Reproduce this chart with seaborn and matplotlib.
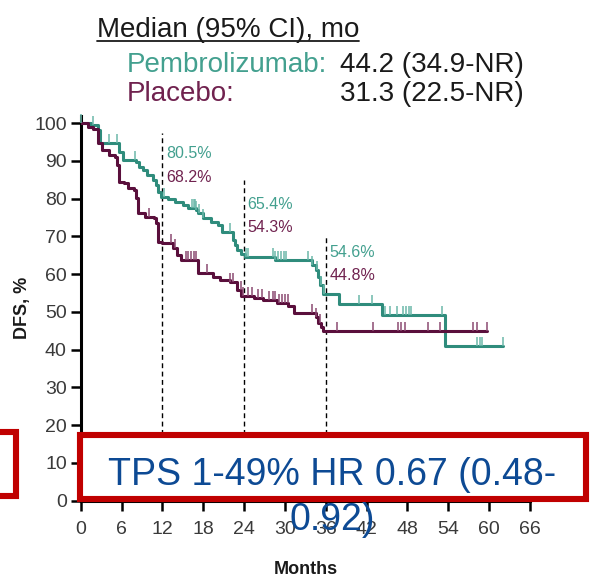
import numpy as np
import pandas as pd
import seaborn as sns
import matplotlib
matplotlib.use("Agg")
import matplotlib.pyplot as plt
from matplotlib.markers import MarkerStyle
from matplotlib.path import Path
from matplotlib.patches import Rectangle
from matplotlib.lines import Line2D
from matplotlib import font_manager

# ---- Kaplan-Meier step data (month of each drop, DFS % after the drop) ----
pembro_time = [0, 1.5, 2.5, 2.9, 5.6, 6.2, 8.1, 8.5, 9.1, 9.8,
               10.6, 11.0, 11.4, 11.8, 12.8, 13.9, 15.0, 15.8, 16.9, 17.2,
               18.0, 19.1, 20.1, 20.8, 22.3, 22.7, 23.0, 23.5, 24.2, 28.6,
               34.0, 34.5, 34.9, 35.2, 35.6, 38.0, 44.3, 53.5, 62.0]
pembro_surv = [100, 99.5, 98.1, 94.7, 92.3, 90.2, 89.7, 88.4, 87.6, 86.2,
               84.9, 83.6, 81.7, 80.5, 79.9, 79.1, 78.3, 77.5, 77.0, 76.2,
               74.9, 73.8, 73.0, 71.2, 69.0, 67.7, 66.4, 65.4, 64.6, 63.8,
               62.4, 61.0, 59.3, 57.1, 54.6, 52.1, 49.2, 41.0, 41.0]

placebo_time = [0, 1.0, 1.8, 2.5, 2.6, 3.2, 4.1, 5.1, 5.4, 5.6,
                6.3, 7.0, 7.8, 8.1, 8.4, 9.5, 10.7, 11.0, 11.3, 11.9,
                13.6, 14.2, 14.7, 17.3, 19.5, 20.5, 22.0, 23.0, 23.6, 25.4,
                26.8, 28.9, 30.5, 31.3, 34.5, 34.9, 35.3, 35.6, 59.7]
placebo_surv = [100, 99.0, 98.5, 97.6, 94.7, 92.9, 91.5, 91.0, 88.9, 84.4,
                84.1, 82.8, 82.3, 80.2, 76.2, 75.1, 74.9, 73.5, 68.5, 68.2,
                66.9, 65.1, 63.8, 60.3, 59.3, 58.5, 58.0, 55.8, 54.3, 53.7,
                53.2, 52.4, 51.5, 49.7, 48.5, 47.0, 46.0, 44.8, 44.8]

# censored observations (months)
pembro_censor = [0.1, 1.8, 4.1, 5.4, 8.0, 12.2, 16.4, 16.6, 16.8, 17.0, 17.4, 18.0,
                 22.0, 24.3, 24.6, 28.2, 28.6, 29.0, 29.4, 29.8, 30.1, 33.4, 34.0,
                 34.7, 35.3, 35.8, 40.9, 42.8, 44.7, 45.4, 46.5, 47.4, 47.8, 48.2,
                 48.5, 53.1, 58.2, 58.6, 59.0, 62.0]
placebo_censor = [10.0, 13.2, 13.9, 15.4, 15.8, 16.2, 16.6, 16.9, 18.6, 22.0, 22.4,
                  23.5, 23.9, 24.6, 25.2, 26.1, 26.7, 27.6, 28.2, 28.6, 29.2, 29.6,
                  30.0, 30.4, 34.0, 34.6, 35.2, 37.7, 43.0, 46.6, 47.0, 47.7, 51.0,
                  52.8, 57.6, 58.2, 59.7]

# landmark estimates
landmark_months = [12, 24, 36]
pembro_landmark = [80.5, 65.4, 54.6]
placebo_landmark = [68.2, 54.3, 44.8]

arms = ["Pembrolizumab", "Placebo"]
x_ticks = list(range(0, 67, 6))
y_ticks = list(range(0, 101, 10))

# ---- styling ----
TEAL = "#2f8c7c"
TEAL_TEXT = "#43a08f"
TEAL_CENSOR = "#6cb8aa"
PLUM = "#5a0f3c"
PLUM_TEXT = "#70224f"
PLUM_CENSOR = "#8c4a72"
BLUE = "#0d4a94"
RED = "#c00000"

sns.set_style("ticks")
names = {f.name for f in font_manager.fontManager.ttflist}
NARROW = "Liberation Sans Narrow" if "Liberation Sans Narrow" in names else "Liberation Sans"
plt.rcParams["font.family"] = ["Liberation Sans", "DejaVu Sans"]

W, H = 615, 577
fig = plt.figure(figsize=(W / 100, H / 100), dpi=100)


def fx(px):
    return px / W


def fy(py):
    return 1 - py / H


ax = fig.add_axes([fx(80.7), fy(500.5), 449.3 / W, 385 / H])

# ---- curves ----
km = pd.concat([
    pd.DataFrame({"month": pembro_time, "dfs": pembro_surv, "arm": arms[0]}),
    pd.DataFrame({"month": placebo_time, "dfs": placebo_surv, "arm": arms[1]}),
], ignore_index=True)

sns.lineplot(data=km, x="month", y="dfs", hue="arm",
             palette={arms[0]: TEAL, arms[1]: PLUM},
             drawstyle="steps-post", estimator=None, sort=False,
             legend=False, linewidth=2.2, ax=ax, zorder=3)


def step_value(times, surv, t):
    idx = np.searchsorted(np.asarray(times), np.asarray(t), side="right") - 1
    return np.asarray(surv)[idx]


tick_marker = MarkerStyle(Path([(0, 0), (0, 1)]))
for times, surv, cens, col in [
    (pembro_time, pembro_surv, pembro_censor, TEAL_CENSOR),
    (placebo_time, placebo_surv, placebo_censor, PLUM_CENSOR),
]:
    cdf = pd.DataFrame({"month": cens, "dfs": step_value(times, surv, cens)})
    sns.scatterplot(data=cdf, x="month", y="dfs", marker=tick_marker, s=170,
                    color=col, edgecolor=col, linewidth=1.1, ax=ax,
                    zorder=4, clip_on=False, legend=False)

# ---- landmark guides and labels ----
guide_top = [97.4, 84.9, 69.8]
label_upper = [91.9, 78.4, 65.6]
label_lower = [85.5, 72.3, 59.5]
ax.vlines(landmark_months, 0, guide_top, colors="black",
          linestyles=(0, (3.5, 2.5)), linewidth=1.0, zorder=2)
for m, p, q, yu, yl in zip(landmark_months, pembro_landmark, placebo_landmark,
                           label_upper, label_lower):
    ax.annotate(f"{p}%", xy=(m, yu), xytext=(2.5, 0), textcoords="offset points",
                ha="left", va="center", fontsize=11.5, color=TEAL_TEXT)
    ax.annotate(f"{q}%", xy=(m, yl), xytext=(2.5, 0), textcoords="offset points",
                ha="left", va="center", fontsize=11.5, color=PLUM_TEXT)

# ---- axes ----
ax.set_xlim(0, 66)
ax.set_ylim(0, 102)
ax.set_xticks(x_ticks)
ax.set_yticks(y_ticks)
sns.despine(ax=ax)
for side in ("left", "bottom"):
    ax.spines[side].set_linewidth(2.2)
    ax.spines[side].set_color("black")
ax.tick_params(axis="both", length=7, width=1.8, color="black",
               labelcolor="#3a3a3a", labelsize=14)
ax.tick_params(axis="x", pad=8)
ax.tick_params(axis="y", pad=3)
for lbl in ax.get_xticklabels() + ax.get_yticklabels():
    lbl.set_fontfamily(NARROW)

ax.set_xlabel("Months", fontsize=13, fontweight="bold", color="#1a1a1a")
ax.xaxis.set_label_coords(0.5, -0.18)
ax.xaxis.label.set_va("center")
ax.set_ylabel("DFS, %", fontsize=13, fontweight="bold", color="#1a1a1a")
ax.yaxis.set_label_coords(-0.13, 0.5)
ax.yaxis.label.set_va("center")

# ---- header ----
hdr = fig.text(fx(97), fy(37), "Median (95% CI), mo", fontsize=20,
               color="#1a1a1a", va="baseline")
fig.text(fx(127), fy(72), "Pembrolizumab:", fontsize=20, color=TEAL_TEXT, va="baseline")
fig.text(fx(340), fy(72), "44.2 (34.9-NR)", fontsize=20, color="#1a1a1a", va="baseline")
fig.text(fx(127), fy(101), "Placebo:", fontsize=20, color=PLUM_TEXT, va="baseline")
fig.text(fx(340), fy(101), "31.3 (22.5-NR)", fontsize=20, color="#1a1a1a", va="baseline")

fig.canvas.draw()
bb = hdr.get_window_extent()
fig.add_artist(Line2D([bb.x0 / W, bb.x1 / W], [fy(41), fy(41)],
                      transform=fig.transFigure, color="#1a1a1a", linewidth=1.3))

# ---- HR callout ----
fig.add_artist(Rectangle((fx(80), fy(498.5)), (585.5 - 80) / W, (498.5 - 435) / H,
                         transform=fig.transFigure, facecolor="white",
                         edgecolor=RED, linewidth=4.4, zorder=5))
fig.add_artist(Rectangle((fx(-60), fy(496)), (16 + 60) / W, (496 - 432) / H,
                         transform=fig.transFigure, facecolor="white",
                         edgecolor=RED, linewidth=4.4, zorder=5))
fig.text(fx(332), fy(530), "TPS 1-49% HR 0.67 (0.48-\n0.92)", fontsize=27,
         color=BLUE, ha="center", va="baseline", multialignment="center",
         linespacing=1.33, zorder=6)

fig.savefig("out.png", dpi=100)
